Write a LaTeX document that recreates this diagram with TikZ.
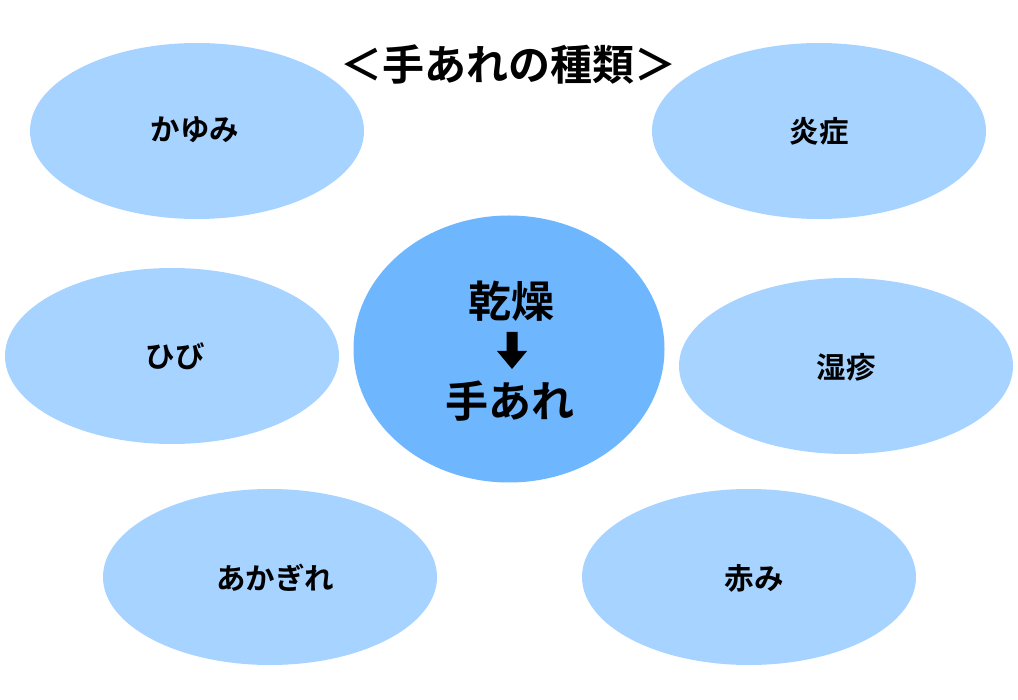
\documentclass[tikz,border=0pt]{standalone}
\usepackage{fontspec}
\newfontfamily\jp{Noto Sans CJK JP}[BoldFont=* Bold]
\usetikzlibrary{shapes.geometric}
\definecolor{lightblob}{HTML}{A6D3FF}
\definecolor{coreblob}{HTML}{6EB7FF}
\tikzset{
  blob/.style={ellipse, fill=lightblob, draw=none, minimum width=334pt, minimum height=176pt, inner sep=0pt},
  core/.style={ellipse, fill=coreblob, draw=none, minimum width=311pt, minimum height=267pt, inner sep=0pt},
  lab/.style={font=\jp\bfseries\fontsize{29.5}{32}\selectfont, inner sep=0pt, text=black},
  big/.style={font=\jp\bfseries\fontsize{43}{46}\selectfont, inner sep=0pt, text=black},
  ttl/.style={font=\jp\bfseries\fontsize{42}{46}\selectfont, inner sep=0pt, text=black}
}
\begin{document}
\begin{tikzpicture}[x=1pt,y=-1pt]
\useasboundingbox (0,0) rectangle (1018,700);
\fill[white] (0,0) rectangle (1018,700);
\node[blob] (e1) at (197,131) {};
\node[blob] (e2) at (819,131) {};
\node[blob] (e3) at (172,356) {};
\node[blob] (e4) at (846,366) {};
\node[blob] (e5) at (270,577) {};
\node[blob] (e6) at (749,577) {};
\node[core] (c) at (509,349) {};
\node[ttl] (title) at (508,65) {＜手あれの種類＞};
\node[lab] (t1) at (195,130) {かゆみ};
\node[lab] (t2) at (819,131) {炎症};
\node[lab] (t3) at (175,356) {ひび};
\node[lab] (t4) at (846,367) {湿疹};
\node[lab] (t5) at (275,578) {あかぎれ};
\node[lab] (t6) at (754,578) {赤み};
\node[big] (dry) at (511,301) {乾燥};
\node[big] (hand) at (510,401) {手あれ};
\fill[black] (506.5,332) -- (517.5,332) -- (517.5,351) -- (527,351) -- (512,369) -- (497,351) -- (506.5,351) -- cycle;
\end{tikzpicture}
\end{document}
